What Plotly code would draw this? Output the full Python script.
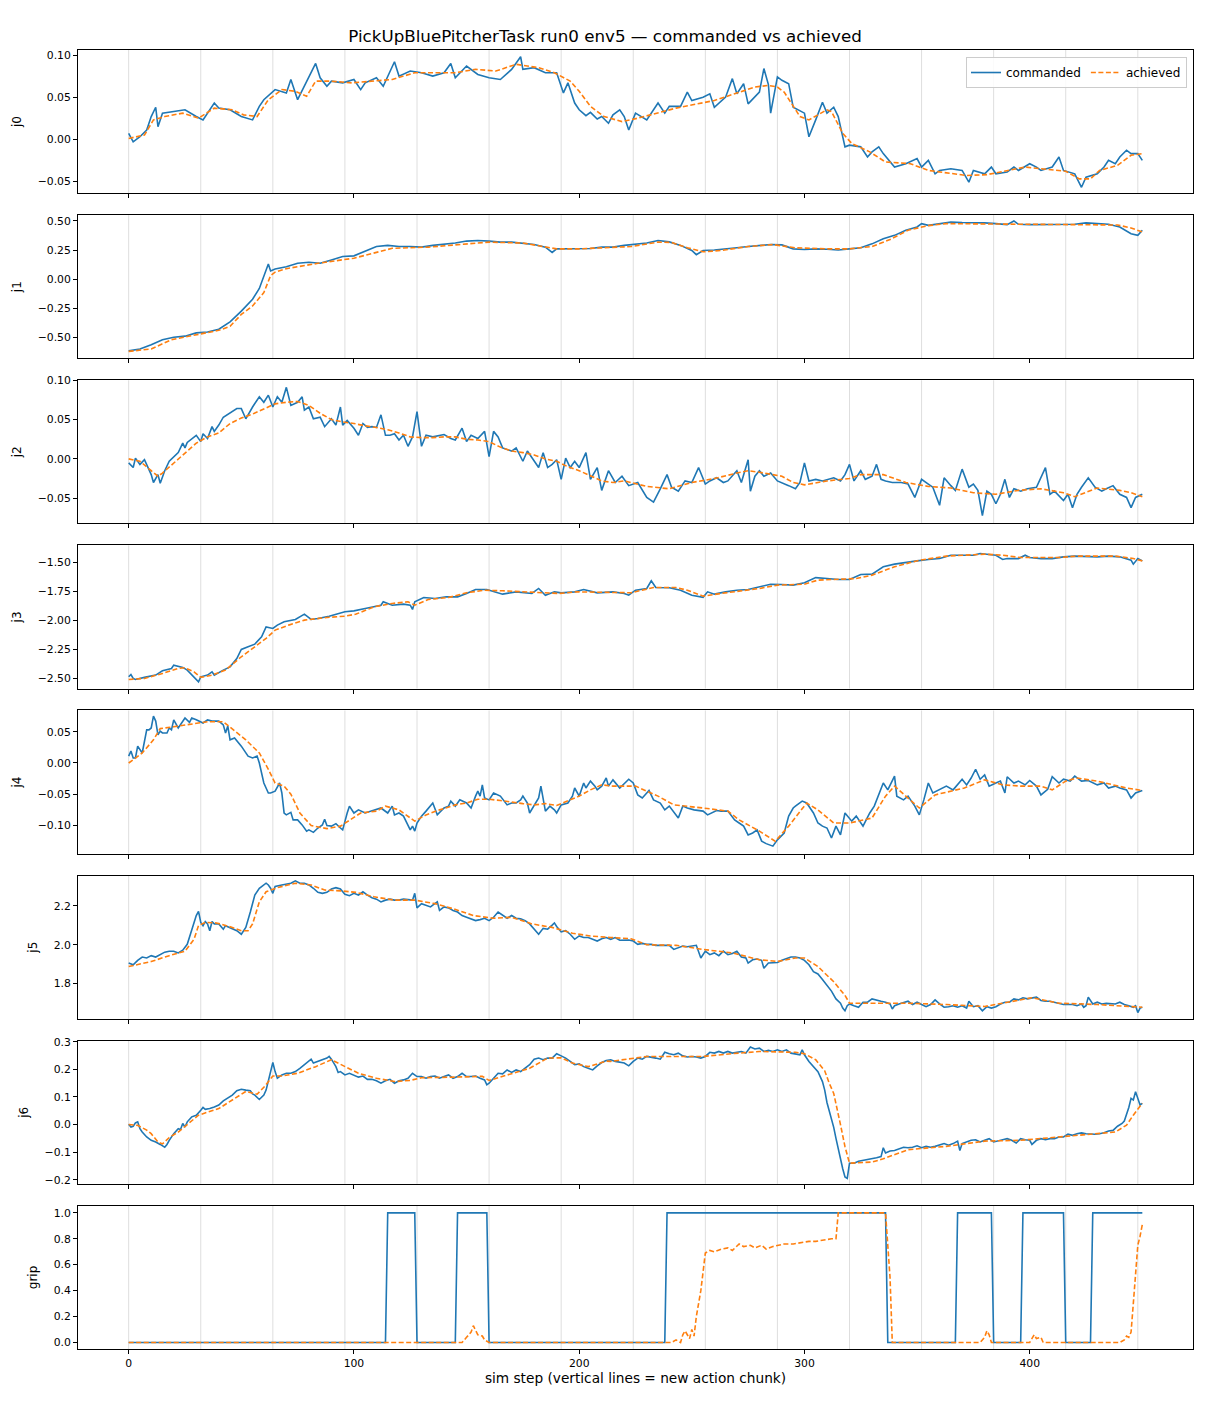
import plotly.graph_objects as go
from plotly.subplots import make_subplots

# (step, value) readings per joint, commanded vs achieved
j0_cmd = [(0, 0.007), (2, -0.003), (5, 0.003), (8, 0.011), (10, 0.027), (12, 0.038), (13, 0.015), (15, 0.031),
          (20, 0.033), (25, 0.035), (30, 0.027), (33, 0.023), (38, 0.043), (40, 0.037), (45, 0.035), (50, 0.027),
          (55, 0.023), (58, 0.039), (60, 0.047), (65, 0.059), (70, 0.055), (72, 0.071), (75, 0.047), (78, 0.063),
          (80, 0.075), (83, 0.09), (85, 0.073), (88, 0.063), (90, 0.069), (95, 0.067), (100, 0.071), (103, 0.059),
          (105, 0.067), (110, 0.073), (113, 0.063), (118, 0.092), (120, 0.075), (125, 0.081), (130, 0.079),
          (135, 0.075), (140, 0.079), (143, 0.09), (145, 0.073), (150, 0.087), (155, 0.077), (160, 0.073),
          (165, 0.071), (170, 0.083), (174, 0.098), (175, 0.083), (180, 0.085), (185, 0.079), (190, 0.079),
          (193, 0.055), (195, 0.067), (198, 0.043), (200, 0.035), (203, 0.028), (205, 0.032), (208, 0.024),
          (210, 0.027), (213, 0.019), (215, 0.029), (218, 0.035), (220, 0.027), (222, 0.011), (225, 0.031),
          (230, 0.023), (235, 0.043), (238, 0.031), (240, 0.039), (245, 0.039), (248, 0.056), (250, 0.046),
          (255, 0.05), (258, 0.054), (260, 0.038), (265, 0.05), (268, 0.072), (270, 0.054), (273, 0.066),
          (275, 0.042), (280, 0.056), (282, 0.084), (284, 0.065), (285, 0.031), (288, 0.074), (290, 0.07),
          (293, 0.066), (295, 0.038), (300, 0.031), (302, 0.003), (305, 0.023), (308, 0.044), (310, 0.031),
          (313, 0.038), (315, 0.027), (318, -0.009), (320, -0.007), (325, -0.009), (328, -0.021), (330, -0.015),
          (333, -0.009), (335, -0.017), (340, -0.033), (345, -0.029), (350, -0.023), (352, -0.033), (355, -0.025),
          (358, -0.041), (360, -0.037), (365, -0.035), (370, -0.037), (373, -0.051), (375, -0.037), (380, -0.041),
          (383, -0.033), (385, -0.041), (390, -0.039), (393, -0.033), (395, -0.037), (400, -0.029), (403, -0.033),
          (405, -0.037), (410, -0.033), (413, -0.021), (415, -0.037), (420, -0.041), (423, -0.057), (425, -0.045),
          (430, -0.041), (433, -0.033), (435, -0.025), (438, -0.029), (440, -0.021), (443, -0.013), (445, -0.017),
          (448, -0.017), (450, -0.025)]
j0_ach = [(0, 0.001), (7, 0.005), (11, 0.023), (16, 0.027), (24, 0.031), (31, 0.025), (38, 0.037), (46, 0.035),
          (51, 0.029), (57, 0.027), (62, 0.047), (68, 0.059), (74, 0.057), (79, 0.051), (83, 0.069), (90, 0.069),
          (99, 0.067), (108, 0.069), (117, 0.071), (127, 0.079), (136, 0.079), (145, 0.079), (154, 0.083),
          (163, 0.081), (172, 0.089), (182, 0.085), (189, 0.079), (196, 0.069), (200, 0.057), (205, 0.039),
          (211, 0.027), (219, 0.021), (226, 0.025), (243, 0.037), (260, 0.046), (278, 0.062), (284, 0.064),
          (288, 0.062), (291, 0.056), (295, 0.04), (298, 0.027), (302, 0.023), (310, 0.035), (312, 0.033),
          (317, 0.007), (321, -0.005), (329, -0.015), (336, -0.027), (347, -0.029), (355, -0.037), (372, -0.043),
          (381, -0.042), (398, -0.033), (416, -0.038), (422, -0.047), (427, -0.047), (431, -0.037), (439, -0.031),
          (445, -0.019), (450, -0.017)]

j1_cmd = [(0, -0.616), (5, -0.60), (10, -0.564), (15, -0.52), (20, -0.50), (25, -0.49), (30, -0.462), (35, -0.454),
          (40, -0.43), (45, -0.367), (50, -0.275), (55, -0.173), (58, -0.08), (60, 0.03), (62, 0.13), (63, 0.07),
          (65, 0.087), (70, 0.107), (75, 0.136), (80, 0.145), (85, 0.136), (90, 0.165), (95, 0.194), (100, 0.2),
          (105, 0.24), (110, 0.28), (115, 0.29), (120, 0.28), (125, 0.28), (130, 0.275), (135, 0.29), (140, 0.297),
          (145, 0.31), (150, 0.327), (155, 0.332), (160, 0.327), (165, 0.318), (170, 0.318), (175, 0.31),
          (180, 0.297), (185, 0.275), (188, 0.23), (190, 0.26), (195, 0.26), (200, 0.266), (205, 0.263),
          (210, 0.275), (215, 0.275), (220, 0.29), (225, 0.303), (230, 0.31), (235, 0.332), (240, 0.32),
          (245, 0.29), (250, 0.246), (252, 0.21), (255, 0.246), (260, 0.25), (265, 0.257), (270, 0.27),
          (275, 0.28), (280, 0.286), (285, 0.297), (290, 0.294), (295, 0.26), (300, 0.254), (305, 0.26),
          (310, 0.257), (315, 0.25), (320, 0.26), (325, 0.27), (330, 0.303), (335, 0.347), (340, 0.376),
          (345, 0.42), (350, 0.448), (352, 0.477), (355, 0.462), (360, 0.477), (365, 0.49), (370, 0.486),
          (375, 0.486), (380, 0.483), (385, 0.477), (390, 0.468), (393, 0.50), (395, 0.471), (400, 0.468),
          (405, 0.468), (410, 0.471), (415, 0.468), (420, 0.471), (425, 0.483), (430, 0.477), (435, 0.471),
          (440, 0.448), (445, 0.39), (448, 0.376), (450, 0.42)]
j1_ach = [(0, -0.621), (10, -0.60), (19, -0.52), (27, -0.49), (35, -0.46), (40, -0.44), (45, -0.405), (50, -0.303),
          (55, -0.23), (60, -0.116), (63, 0.03), (65, 0.06), (70, 0.09), (84, 0.136), (100, 0.18), (110, 0.23),
          (117, 0.265), (133, 0.275), (145, 0.295), (160, 0.318), (175, 0.31), (190, 0.26), (200, 0.26),
          (215, 0.275), (223, 0.28), (235, 0.318), (241, 0.315), (248, 0.27), (255, 0.235), (263, 0.246),
          (275, 0.28), (286, 0.297), (296, 0.269), (310, 0.26), (320, 0.26), (330, 0.28), (338, 0.34),
          (346, 0.42), (355, 0.46), (363, 0.477), (380, 0.475), (400, 0.47), (420, 0.47), (430, 0.47),
          (439, 0.465), (445, 0.44), (450, 0.405)]

j2_cmd = [(0, -0.005), (2, -0.011), (3, 0.001), (5, -0.007), (7, -0.001), (8, -0.007), (10, -0.02), (11, -0.03),
          (13, -0.02), (14, -0.031), (16, -0.015), (18, -0.003), (20, 0.003), (22, 0.008), (24, 0.02), (25, 0.014),
          (26, 0.021), (28, 0.026), (30, 0.03), (32, 0.022), (33, 0.032), (35, 0.026), (37, 0.041), (38, 0.035),
          (40, 0.043), (42, 0.053), (45, 0.058), (48, 0.064), (50, 0.064), (52, 0.051), (55, 0.066), (58, 0.079),
          (60, 0.072), (62, 0.081), (64, 0.066), (66, 0.079), (68, 0.072), (70, 0.091), (72, 0.068), (75, 0.072),
          (77, 0.079), (78, 0.062), (80, 0.066), (82, 0.051), (85, 0.053), (87, 0.041), (90, 0.051), (92, 0.043),
          (94, 0.066), (95, 0.043), (97, 0.049), (100, 0.039), (102, 0.03), (104, 0.045), (106, 0.040),
          (108, 0.041), (110, 0.04), (112, 0.056), (114, 0.03), (116, 0.03), (118, 0.032), (120, 0.024),
          (122, 0.03), (124, 0.016), (126, 0.028), (128, 0.06), (130, 0.016), (132, 0.03), (135, 0.028),
          (140, 0.031), (143, 0.026), (145, 0.024), (148, 0.039), (150, 0.022), (152, 0.03), (155, 0.026),
          (158, 0.035), (160, 0.003), (162, 0.035), (164, 0.028), (166, 0.014), (168, 0.012), (170, 0.01),
          (172, 0.014), (175, -0.003), (177, 0.01), (180, -0.003), (182, -0.011), (184, 0.008), (186, -0.011),
          (188, -0.007), (190, -0.001), (192, -0.026), (194, 0.001), (196, -0.011), (198, -0.003), (200, -0.011),
          (203, 0.008), (205, -0.026), (208, -0.011), (210, -0.04), (213, -0.015), (216, -0.03), (219, -0.022),
          (222, -0.034), (226, -0.03), (230, -0.049), (233, -0.055), (236, -0.038), (239, -0.02), (241, -0.036),
          (244, -0.041), (247, -0.028), (250, -0.03), (253, -0.011), (256, -0.032), (258, -0.028), (261, -0.024),
          (264, -0.03), (266, -0.028), (270, -0.015), (272, -0.03), (275, -0.001), (276, -0.041), (278, -0.022),
          (280, -0.015), (282, -0.022), (285, -0.018), (288, -0.028), (290, -0.03), (293, -0.034), (296, -0.038),
          (298, -0.03), (300, -0.005), (302, -0.028), (305, -0.026), (308, -0.028), (313, -0.024), (316, -0.028),
          (318, -0.02), (320, -0.007), (322, -0.028), (325, -0.015), (327, -0.026), (330, -0.022), (332, -0.007),
          (334, -0.026), (336, -0.028), (339, -0.03), (343, -0.03), (346, -0.032), (349, -0.049), (352, -0.026),
          (355, -0.032), (357, -0.036), (360, -0.059), (362, -0.024), (365, -0.034), (367, -0.04), (370, -0.013),
          (373, -0.036), (375, -0.032), (377, -0.04), (379, -0.072), (381, -0.041), (383, -0.045), (385, -0.057),
          (387, -0.045), (389, -0.026), (391, -0.049), (393, -0.038), (396, -0.041), (399, -0.038), (403, -0.036),
          (407, -0.011), (409, -0.045), (411, -0.041), (415, -0.053), (417, -0.045), (419, -0.062), (421, -0.045),
          (423, -0.036), (426, -0.024), (429, -0.036), (432, -0.041), (434, -0.038), (437, -0.034), (440, -0.045),
          (443, -0.049), (445, -0.062), (447, -0.049), (450, -0.045)]
j2_ach = [(0, 0.0), (5, -0.003), (10, -0.015), (13, -0.022), (15, -0.018), (20, -0.005), (25, 0.008), (30, 0.02),
          (35, 0.028), (40, 0.033), (45, 0.045), (50, 0.052), (55, 0.057), (60, 0.063), (65, 0.07), (70, 0.072),
          (75, 0.073), (80, 0.068), (85, 0.058), (90, 0.05), (95, 0.047), (100, 0.045), (105, 0.042), (110, 0.04),
          (115, 0.037), (120, 0.033), (125, 0.028), (130, 0.027), (135, 0.027), (140, 0.028), (145, 0.028),
          (150, 0.025), (155, 0.024), (160, 0.022), (165, 0.015), (170, 0.01), (175, 0.008), (180, 0.005),
          (185, 0.0), (190, -0.003), (195, -0.01), (200, -0.015), (205, -0.022), (210, -0.028), (215, -0.03),
          (220, -0.028), (230, -0.035), (240, -0.038), (250, -0.03), (260, -0.025), (270, -0.018), (275, -0.015),
          (280, -0.017), (290, -0.022), (295, -0.03), (300, -0.033), (310, -0.028), (320, -0.025), (325, -0.02),
          (335, -0.02), (345, -0.03), (355, -0.035), (365, -0.037), (375, -0.043), (385, -0.045), (395, -0.04),
          (405, -0.038), (415, -0.043), (420, -0.048), (425, -0.042), (430, -0.037), (440, -0.04), (445, -0.043),
          (450, -0.048)]

j3_cmd = [(0, -2.486), (1, -2.466), (2, -2.50), (3, -2.509), (7, -2.491), (12, -2.471), (15, -2.434), (19, -2.414),
          (20, -2.385), (24, -2.405), (26, -2.428), (28, -2.471), (29, -2.491), (31, -2.529), (32, -2.486),
          (35, -2.471), (37, -2.443), (38, -2.471), (42, -2.428), (45, -2.40), (48, -2.328), (50, -2.25),
          (53, -2.227), (56, -2.204), (59, -2.141), (61, -2.055), (64, -2.069), (66, -2.04), (69, -2.011),
          (74, -1.991), (78, -1.945), (81, -1.991), (84, -1.983), (89, -1.963), (96, -1.925), (100, -1.917),
          (105, -1.897), (112, -1.868), (113, -1.839), (117, -1.868), (122, -1.859), (125, -1.868), (126, -1.905),
          (127, -1.839), (131, -1.802), (136, -1.81), (141, -1.796), (146, -1.796), (150, -1.767), (154, -1.733),
          (159, -1.733), (166, -1.773), (172, -1.753), (179, -1.767), (182, -1.724), (185, -1.782), (189, -1.753),
          (192, -1.762), (198, -1.753), (202, -1.733), (208, -1.762), (215, -1.753), (220, -1.767), (222, -1.782),
          (225, -1.739), (228, -1.73), (230, -1.724), (232, -1.658), (234, -1.716), (240, -1.718), (245, -1.739),
          (250, -1.782), (255, -1.80), (257, -1.753), (260, -1.773), (265, -1.753), (270, -1.739), (275, -1.733),
          (280, -1.71), (285, -1.687), (290, -1.69), (295, -1.695), (300, -1.675), (305, -1.63), (310, -1.638),
          (315, -1.647), (320, -1.647), (325, -1.603), (330, -1.60), (335, -1.537), (340, -1.514), (345, -1.503),
          (350, -1.486), (355, -1.474), (360, -1.466), (365, -1.437), (370, -1.437), (375, -1.437), (378, -1.422),
          (380, -1.428), (385, -1.437), (388, -1.474), (390, -1.466), (395, -1.466), (398, -1.437), (400, -1.457),
          (405, -1.466), (410, -1.466), (415, -1.451), (420, -1.445), (425, -1.451), (430, -1.451), (435, -1.445),
          (440, -1.451), (445, -1.48), (446, -1.514), (448, -1.466), (450, -1.486)]
j3_ach = [(0, -2.509), (7, -2.50), (15, -2.457), (22, -2.414), (25, -2.408), (29, -2.443), (32, -2.491),
          (37, -2.471), (43, -2.428), (50, -2.313), (56, -2.227), (61, -2.155), (65, -2.083), (71, -2.04),
          (78, -1.997), (88, -1.974), (96, -1.963), (101, -1.945), (109, -1.882), (117, -1.853), (124, -1.839),
          (127, -1.868), (133, -1.819), (142, -1.802), (150, -1.761), (158, -1.739), (166, -1.744), (174, -1.753),
          (183, -1.759), (191, -1.767), (199, -1.753), (215, -1.757), (223, -1.761), (233, -1.716), (243, -1.716),
          (248, -1.739), (255, -1.79), (263, -1.767), (280, -1.724), (288, -1.695), (300, -1.687), (306, -1.652),
          (313, -1.647), (323, -1.638), (330, -1.609), (340, -1.537), (351, -1.48), (363, -1.445), (380, -1.428),
          (388, -1.437), (396, -1.457), (413, -1.457), (421, -1.445), (438, -1.445), (446, -1.466), (450, -1.486)]

j4_cmd = [(0, 0.011), (1, 0.019), (2, 0.008), (3, 0.008), (4, 0.027), (5, 0.021), (6, 0.016), (8, 0.053),
          (9, 0.053), (10, 0.056), (11, 0.075), (12, 0.067), (13, 0.045), (14, 0.051), (15, 0.048), (17, 0.048),
          (18, 0.056), (19, 0.053), (20, 0.069), (22, 0.056), (24, 0.067), (25, 0.072), (27, 0.065), (28, 0.072),
          (30, 0.069), (33, 0.064), (35, 0.069), (37, 0.067), (40, 0.067), (42, 0.061), (43, 0.048), (44, 0.059),
          (45, 0.037), (47, 0.040), (50, 0.027), (52, 0.016), (53, 0.011), (55, 0.008), (57, 0.011), (58, 0.0),
          (59, -0.016), (60, -0.032), (62, -0.048), (63, -0.048), (65, -0.045), (67, -0.032), (68, -0.048),
          (69, -0.080), (70, -0.083), (72, -0.079), (73, -0.091), (75, -0.091), (77, -0.099), (79, -0.109),
          (80, -0.107), (82, -0.111), (84, -0.104), (86, -0.099), (87, -0.090), (88, -0.100), (90, -0.101),
          (92, -0.097), (94, -0.104), (95, -0.107), (97, -0.080), (98, -0.069), (100, -0.080), (102, -0.075),
          (105, -0.080), (108, -0.077), (110, -0.075), (112, -0.072), (115, -0.080), (117, -0.069), (118, -0.083),
          (120, -0.080), (122, -0.085), (124, -0.099), (125, -0.107), (126, -0.101), (127, -0.109), (128, -0.096),
          (130, -0.085), (132, -0.077), (135, -0.064), (137, -0.083), (140, -0.072), (142, -0.069), (143, -0.061),
          (145, -0.069), (147, -0.059), (150, -0.064), (152, -0.072), (154, -0.053), (155, -0.045), (156, -0.053),
          (157, -0.035), (158, -0.056), (160, -0.059), (162, -0.048), (165, -0.053), (168, -0.067), (170, -0.064),
          (172, -0.064), (174, -0.059), (175, -0.053), (177, -0.064), (178, -0.080), (180, -0.069), (182, -0.056),
          (183, -0.037), (185, -0.077), (187, -0.069), (189, -0.075), (190, -0.080), (192, -0.067), (195, -0.064),
          (197, -0.053), (198, -0.040), (200, -0.053), (202, -0.032), (203, -0.040), (205, -0.029), (207, -0.037),
          (208, -0.043), (210, -0.037), (212, -0.024), (213, -0.037), (215, -0.027), (218, -0.040), (222, -0.026),
          (224, -0.032), (226, -0.051), (228, -0.056), (230, -0.048), (231, -0.044), (233, -0.059), (236, -0.064),
          (238, -0.075), (240, -0.069), (244, -0.088), (246, -0.069), (248, -0.072), (251, -0.075), (255, -0.077),
          (257, -0.083), (261, -0.076), (263, -0.077), (266, -0.077), (269, -0.091), (271, -0.096), (273, -0.101),
          (275, -0.115), (277, -0.112), (279, -0.107), (281, -0.125), (283, -0.129), (286, -0.133), (288, -0.123),
          (291, -0.112), (293, -0.085), (295, -0.072), (296, -0.069), (299, -0.061), (301, -0.064), (304, -0.080),
          (306, -0.096), (308, -0.101), (310, -0.104), (312, -0.120), (314, -0.101), (316, -0.115), (318, -0.080),
          (321, -0.093), (323, -0.085), (326, -0.101), (329, -0.080), (331, -0.069), (335, -0.032), (337, -0.043),
          (340, -0.021), (341, -0.053), (344, -0.059), (346, -0.053), (349, -0.069), (351, -0.083), (353, -0.059),
          (355, -0.032), (357, -0.048), (360, -0.043), (363, -0.037), (366, -0.043), (370, -0.026), (372, -0.035),
          (374, -0.024), (376, -0.010), (378, -0.026), (380, -0.019), (382, -0.037), (385, -0.032), (387, -0.029),
          (389, -0.048), (390, -0.022), (393, -0.032), (395, -0.029), (398, -0.035), (400, -0.028), (403, -0.037),
          (405, -0.051), (408, -0.042), (410, -0.022), (413, -0.032), (415, -0.026), (418, -0.029), (420, -0.021),
          (423, -0.029), (426, -0.028), (430, -0.035), (433, -0.032), (435, -0.040), (438, -0.037), (440, -0.040),
          (443, -0.043), (445, -0.056), (447, -0.048), (450, -0.044)]
j4_ach = [(0, 0.0), (6, 0.016), (11, 0.037), (14, 0.055), (20, 0.058), (27, 0.062), (35, 0.066), (42, 0.066),
          (47, 0.051), (52, 0.037), (58, 0.016), (62, -0.01), (65, -0.032), (69, -0.037), (72, -0.05), (76, -0.08),
          (81, -0.1), (88, -0.105), (94, -0.101), (99, -0.09), (103, -0.08), (110, -0.077), (114, -0.069),
          (120, -0.075), (127, -0.093), (132, -0.083), (138, -0.075), (145, -0.067), (150, -0.064), (155, -0.058),
          (160, -0.058), (165, -0.06), (170, -0.063), (175, -0.065), (180, -0.067), (185, -0.065), (190, -0.068),
          (195, -0.06), (200, -0.053), (205, -0.043), (210, -0.035), (215, -0.037), (225, -0.037), (235, -0.053),
          (242, -0.067), (255, -0.072), (266, -0.077), (271, -0.091), (280, -0.109), (287, -0.125), (293, -0.101),
          (301, -0.064), (306, -0.075), (313, -0.096), (320, -0.096), (330, -0.088), (336, -0.053), (340, -0.037),
          (345, -0.053), (351, -0.072), (358, -0.051), (371, -0.040), (380, -0.027), (388, -0.035), (396, -0.037),
          (405, -0.037), (410, -0.043), (416, -0.029), (421, -0.024), (430, -0.029), (443, -0.040), (450, -0.044)]

j5_cmd = [(0, 1.906), (2, 1.897), (4, 1.92), (6, 1.937), (8, 1.932), (10, 1.944), (12, 1.937), (14, 1.949),
          (16, 1.962), (18, 1.967), (20, 1.967), (22, 1.958), (24, 1.972), (26, 2.002), (28, 2.08), (29, 2.107),
          (30, 2.15), (31, 2.171), (32, 2.115), (33, 2.098), (34, 2.119), (35, 2.107), (36, 2.072), (37, 2.119),
          (38, 2.107), (40, 2.107), (42, 2.08), (43, 2.098), (45, 2.089), (48, 2.072), (50, 2.054), (52, 2.089),
          (54, 2.168), (56, 2.255), (58, 2.29), (60, 2.307), (61, 2.316), (62, 2.307), (63, 2.29), (64, 2.264),
          (65, 2.299), (68, 2.307), (70, 2.311), (72, 2.316), (74, 2.328), (76, 2.316), (78, 2.316), (80, 2.307),
          (82, 2.29), (84, 2.269), (86, 2.264), (88, 2.269), (90, 2.286), (92, 2.293), (94, 2.286), (96, 2.259),
          (98, 2.252), (100, 2.264), (102, 2.255), (104, 2.272), (106, 2.255), (108, 2.241), (110, 2.234),
          (112, 2.22), (114, 2.229), (116, 2.234), (118, 2.229), (120, 2.229), (122, 2.234), (124, 2.232),
          (126, 2.229), (127, 2.264), (128, 2.189), (130, 2.211), (132, 2.203), (134, 2.194), (135, 2.203),
          (137, 2.22), (138, 2.176), (140, 2.194), (142, 2.189), (144, 2.176), (146, 2.168), (148, 2.15),
          (150, 2.141), (152, 2.133), (154, 2.124), (156, 2.129), (158, 2.136), (160, 2.124), (162, 2.141),
          (164, 2.168), (166, 2.15), (168, 2.136), (170, 2.15), (172, 2.136), (174, 2.133), (176, 2.124),
          (178, 2.107), (180, 2.08), (182, 2.054), (184, 2.084), (186, 2.08), (188, 2.101), (189, 2.112),
          (190, 2.094), (192, 2.066), (194, 2.072), (196, 2.054), (198, 2.028), (200, 2.045), (202, 2.037),
          (204, 2.037), (206, 2.028), (208, 2.019), (210, 2.031), (212, 2.037), (214, 2.028), (216, 2.037),
          (218, 2.023), (220, 2.024), (222, 2.024), (224, 2.019), (226, 2.002), (228, 2.007), (230, 2.002),
          (232, 2.002), (234, 1.997), (236, 1.997), (238, 1.997), (240, 1.997), (242, 1.976), (244, 1.984),
          (246, 1.993), (248, 1.99), (250, 1.993), (252, 1.997), (254, 1.932), (256, 1.967), (258, 1.949),
          (260, 1.958), (262, 1.944), (264, 1.967), (266, 1.949), (268, 1.955), (270, 1.967), (272, 1.937),
          (274, 1.932), (275, 1.906), (277, 1.923), (279, 1.927), (281, 1.92), (282, 1.879), (284, 1.906),
          (286, 1.909), (288, 1.909), (290, 1.92), (292, 1.927), (294, 1.937), (296, 1.937), (298, 1.932),
          (300, 1.92), (302, 1.897), (304, 1.862), (306, 1.85), (308, 1.822), (310, 1.792), (312, 1.762),
          (314, 1.722), (316, 1.70), (317, 1.675), (318, 1.661), (319, 1.687), (320, 1.696), (322, 1.687),
          (324, 1.679), (326, 1.705), (328, 1.705), (330, 1.722), (332, 1.714), (334, 1.71), (336, 1.705),
          (338, 1.696), (339, 1.67), (340, 1.687), (342, 1.696), (344, 1.705), (346, 1.71), (348, 1.693),
          (350, 1.705), (352, 1.693), (354, 1.682), (356, 1.693), (358, 1.717), (360, 1.696), (362, 1.679),
          (364, 1.682), (366, 1.687), (368, 1.679), (370, 1.687), (372, 1.675), (373, 1.71), (375, 1.682),
          (377, 1.687), (379, 1.661), (381, 1.682), (383, 1.675), (385, 1.682), (387, 1.696), (389, 1.705),
          (391, 1.705), (393, 1.722), (395, 1.717), (397, 1.728), (399, 1.722), (401, 1.728), (403, 1.731),
          (405, 1.714), (407, 1.71), (409, 1.71), (411, 1.703), (413, 1.696), (415, 1.693), (417, 1.693),
          (419, 1.693), (421, 1.687), (423, 1.696), (424, 1.679), (425, 1.687), (426, 1.731), (428, 1.696),
          (430, 1.705), (432, 1.696), (434, 1.699), (436, 1.696), (438, 1.696), (440, 1.705), (442, 1.693),
          (444, 1.687), (446, 1.679), (447, 1.687), (448, 1.652), (449, 1.675), (450, 1.679)]
j5_ach = [(0, 1.888), (10, 1.914), (18, 1.944), (22, 1.958), (25, 1.967), (29, 2.028), (31, 2.098), (34, 2.115),
          (39, 2.112), (46, 2.089), (50, 2.072), (53, 2.072), (55, 2.107), (58, 2.22), (61, 2.272), (66, 2.293),
          (74, 2.316), (81, 2.307), (87, 2.281), (95, 2.276), (101, 2.269), (109, 2.246), (118, 2.229),
          (127, 2.229), (136, 2.211), (144, 2.185), (153, 2.15), (162, 2.136), (170, 2.141), (179, 2.107),
          (188, 2.089), (197, 2.059), (205, 2.045), (214, 2.037), (223, 2.031), (230, 2.0), (243, 1.997),
          (255, 1.976), (268, 1.958), (280, 1.923), (288, 1.914), (296, 1.932), (300, 1.932), (306, 1.888),
          (313, 1.81), (318, 1.74), (320, 1.70), (330, 1.70), (346, 1.70), (363, 1.693), (380, 1.683),
          (388, 1.70), (396, 1.717), (401, 1.728), (413, 1.70), (430, 1.693), (450, 1.679)]

j6_cmd = [(0, 0.001), (1, -0.009), (2, -0.006), (3, 0.006), (4, 0.010), (5, -0.015), (6, -0.027), (8, -0.045),
          (10, -0.057), (12, -0.063), (14, -0.072), (16, -0.082), (17, -0.072), (18, -0.057), (20, -0.033),
          (22, -0.015), (23, -0.018), (24, 0.004), (25, -0.009), (26, 0.010), (28, 0.028), (30, 0.034),
          (32, 0.052), (33, 0.062), (34, 0.055), (36, 0.058), (38, 0.064), (40, 0.071), (42, 0.086), (44, 0.095),
          (46, 0.107), (48, 0.123), (50, 0.128), (52, 0.125), (54, 0.123), (55, 0.111), (56, 0.107), (58, 0.091),
          (60, 0.107), (61, 0.125), (62, 0.162), (63, 0.198), (64, 0.225), (65, 0.192), (66, 0.168), (68, 0.18),
          (70, 0.186), (72, 0.186), (74, 0.192), (76, 0.204), (78, 0.217), (80, 0.232), (81, 0.237), (82, 0.223),
          (84, 0.229), (86, 0.235), (88, 0.241), (89, 0.247), (90, 0.237), (92, 0.21), (93, 0.189), (94, 0.192),
          (96, 0.18), (98, 0.186), (100, 0.18), (102, 0.172), (104, 0.176), (106, 0.164), (108, 0.164),
          (110, 0.159), (112, 0.15), (114, 0.159), (116, 0.164), (118, 0.15), (120, 0.159), (122, 0.162),
          (124, 0.168), (126, 0.186), (128, 0.174), (130, 0.174), (132, 0.168), (134, 0.174), (136, 0.176),
          (138, 0.168), (140, 0.174), (142, 0.18), (144, 0.168), (146, 0.174), (148, 0.186), (150, 0.174),
          (152, 0.174), (154, 0.176), (156, 0.168), (158, 0.162), (159, 0.144), (160, 0.15), (162, 0.168),
          (164, 0.186), (166, 0.184), (168, 0.198), (170, 0.189), (172, 0.198), (174, 0.192), (176, 0.204),
          (178, 0.217), (180, 0.237), (182, 0.241), (184, 0.235), (186, 0.241), (188, 0.241), (190, 0.257),
          (192, 0.249), (194, 0.241), (196, 0.229), (198, 0.217), (200, 0.22), (202, 0.21), (204, 0.204),
          (206, 0.198), (208, 0.213), (210, 0.225), (212, 0.232), (214, 0.235), (216, 0.229), (218, 0.225),
          (220, 0.223), (222, 0.213), (224, 0.229), (226, 0.241), (228, 0.237), (230, 0.247), (232, 0.245),
          (234, 0.241), (236, 0.237), (238, 0.262), (240, 0.257), (242, 0.253), (244, 0.259), (246, 0.249),
          (248, 0.245), (250, 0.247), (252, 0.245), (254, 0.241), (256, 0.247), (258, 0.262), (260, 0.259),
          (262, 0.265), (264, 0.259), (266, 0.265), (268, 0.259), (270, 0.262), (272, 0.265), (274, 0.259),
          (276, 0.281), (278, 0.274), (280, 0.277), (282, 0.265), (284, 0.269), (286, 0.265), (288, 0.271),
          (290, 0.265), (292, 0.271), (294, 0.259), (296, 0.257), (298, 0.253), (299, 0.271), (300, 0.253),
          (302, 0.229), (304, 0.21), (306, 0.192), (308, 0.156), (309, 0.125), (310, 0.08), (311, 0.05),
          (312, 0.02), (313, -0.01), (314, -0.05), (315, -0.09), (316, -0.13), (317, -0.16), (318, -0.19),
          (319, -0.195), (320, -0.14), (322, -0.14), (324, -0.133), (326, -0.130), (328, -0.128), (330, -0.124),
          (332, -0.120), (334, -0.116), (335, -0.084), (336, -0.103), (338, -0.096), (340, -0.094), (342, -0.088),
          (344, -0.082), (346, -0.084), (348, -0.082), (350, -0.077), (352, -0.084), (354, -0.079), (356, -0.082),
          (358, -0.079), (360, -0.075), (362, -0.069), (364, -0.075), (366, -0.069), (368, -0.060), (369, -0.094),
          (370, -0.069), (372, -0.063), (374, -0.057), (376, -0.055), (378, -0.063), (380, -0.057), (382, -0.051),
          (384, -0.063), (386, -0.060), (388, -0.055), (390, -0.051), (392, -0.057), (394, -0.067), (396, -0.051),
          (398, -0.055), (400, -0.057), (401, -0.072), (403, -0.057), (405, -0.051), (407, -0.055), (409, -0.051),
          (411, -0.051), (413, -0.045), (415, -0.045), (417, -0.035), (419, -0.039), (421, -0.033), (423, -0.030),
          (425, -0.033), (427, -0.035), (429, -0.035), (431, -0.033), (433, -0.030), (435, -0.023), (437, -0.021),
          (439, -0.006), (441, 0.004), (442, 0.013), (443, 0.034), (444, 0.062), (445, 0.095), (446, 0.089),
          (447, 0.119), (448, 0.095), (449, 0.071), (450, 0.077)]
j6_ach = [(0, 0.0), (4, -0.003), (8, -0.02), (10, -0.033), (13, -0.063), (15, -0.07), (18, -0.047), (22, -0.027),
          (26, 0.0), (31, 0.034), (35, 0.045), (40, 0.058), (46, 0.089), (52, 0.12), (57, 0.11), (60, 0.135),
          (64, 0.176), (68, 0.176), (75, 0.186), (83, 0.21), (90, 0.235), (95, 0.215), (102, 0.186), (110, 0.168),
          (118, 0.156), (125, 0.16), (130, 0.17), (145, 0.172), (157, 0.175), (160, 0.16), (170, 0.185),
          (178, 0.204), (186, 0.241), (192, 0.242), (197, 0.223), (204, 0.21), (212, 0.23), (214, 0.229),
          (230, 0.247), (238, 0.247), (255, 0.247), (268, 0.257), (280, 0.265), (296, 0.262), (300, 0.257),
          (305, 0.235), (309, 0.195), (311, 0.15), (313, 0.113), (316, 0.0), (318, -0.08), (320, -0.14),
          (330, -0.136), (335, -0.124), (346, -0.091), (363, -0.079), (380, -0.06), (396, -0.057), (413, -0.045),
          (429, -0.035), (438, -0.027), (443, -0.002), (446, 0.034), (450, 0.077)]

grip_cmd = [(0, 0), (114, 0), (115, 1), (127, 1), (128, 0), (145, 0), (146, 1), (159, 1), (160, 0), (238, 0),
            (239, 1), (336, 1), (337, 0), (367, 0), (368, 1), (383, 1), (384, 0), (396, 0), (397, 1), (415, 1),
            (416, 0), (427, 0), (428, 1), (450, 1)]
grip_ach = [(0, 0.0), (148, 0.0), (150, 0.04), (152, 0.08), (153, 0.13), (155, 0.06), (157, 0.05), (158, 0.02),
            (160, 0.0), (241, 0.0), (243, 0.02), (245, 0.0), (246, 0.06), (247, 0.09), (248, 0.06), (249, 0.03),
            (250, 0.1), (251, 0.05), (252, 0.2), (254, 0.4), (256, 0.69), (258, 0.71), (260, 0.70), (263, 0.72),
            (266, 0.73), (268, 0.71), (271, 0.76), (273, 0.74), (276, 0.75), (278, 0.73), (281, 0.75), (283, 0.72),
            (286, 0.74), (288, 0.75), (291, 0.76), (295, 0.76), (298, 0.77), (302, 0.78), (305, 0.78), (308, 0.79),
            (312, 0.80), (314, 0.80), (315, 1.0), (336, 1.0), (338, 0.5), (339, 0.0), (378, 0.0), (380, 0.04),
            (381, 0.09), (382, 0.06), (383, 0.0), (400, 0.0), (402, 0.06), (403, 0.03), (405, 0.04), (406, 0.0),
            (440, 0.0), (442, 0.02), (443, 0.05), (444, 0.04), (445, 0.08), (446, 0.3), (447, 0.55), (448, 0.75),
            (449, 0.82), (450, 0.91)]

chunk_starts = [0, 32, 64, 96, 128, 160, 192, 224, 256, 288, 320, 352, 384, 416, 448]

BLUE = "#1f77b4"
ORANGE = "#ff7f0e"
FONT = "DejaVu Sans"

panels = [
    ("j0", j0_cmd, j0_ach, [-0.064, 0.106], 0.05, ".2f"),
    ("j1", j1_cmd, j1_ach, [-0.68, 0.55], 0.25, ".2f"),
    ("j2", j2_cmd, j2_ach, [-0.082, 0.1], 0.05, ".2f"),
    ("j3", j3_cmd, j3_ach, [-2.587, -1.352], 0.25, ".2f"),
    ("j4", j4_cmd, j4_ach, [-0.145, 0.084], 0.05, ".2f"),
    ("j5", j5_cmd, j5_ach, [1.62, 2.355], 0.2, ".1f"),
    ("j6", j6_cmd, j6_ach, [-0.215, 0.304], 0.1, ".1f"),
    ("grip", grip_cmd, grip_ach, [-0.05, 1.054], 0.2, ".1f"),
]

fig = make_subplots(rows=8, cols=1, shared_xaxes=True, vertical_spacing=0.0169)

for i, (name, cmd, ach, rng, dt, fmt) in enumerate(panels, start=1):
    cx, cy = zip(*cmd)
    ax, ay = zip(*ach)
    fig.add_trace(go.Scatter(x=cx, y=cy, mode="lines", name="commanded", legendgroup="cmd",
                             showlegend=(i == 1), line=dict(color=BLUE, width=1.6)), row=i, col=1)
    fig.add_trace(go.Scatter(x=ax, y=ay, mode="lines", name="achieved", legendgroup="ach",
                             showlegend=(i == 1), line=dict(color=ORANGE, width=1.6, dash="5px,2.5px")),
                  row=i, col=1)
    fig.update_yaxes(range=rng, dtick=dt, tickformat=fmt, title_text=name, row=i, col=1)

for s in chunk_starts:
    fig.add_vline(x=s, line_color="#dedede", line_width=1, layer="below", row="all", col=1)

fig.update_xaxes(range=[-22.5, 472.5], tickvals=[0, 100, 200, 300, 400], showline=True, mirror=True,
                 linecolor="black", linewidth=1, ticks="outside", ticklen=4, tickcolor="black",
                 showgrid=False, zeroline=False, tickfont=dict(size=10.8, color="black"))
fig.update_yaxes(showline=True, mirror=True, linecolor="black", linewidth=1, ticks="outside", ticklen=4,
                 tickcolor="black", showgrid=False, zeroline=False, tickfont=dict(size=10.8, color="black"),
                 title_font=dict(size=12, color="black"), title_standoff=13)
fig.update_xaxes(title_text="sim step (vertical lines = new action chunk)", title_standoff=2,
                 title_font=dict(size=13.7, color="black"), row=8, col=1)

# the page body adds an 8px offset, so the margins are shifted to land the axes where the original has them
fig.update_layout(
    template="none",
    width=1210, height=1408,
    margin=dict(l=70, r=25, t=42, b=67),
    paper_bgcolor="white", plot_bgcolor="white",
    font=dict(family=FONT, color="black"),
    title=dict(text="PickUpBluePitcherTask run0 env5 — commanded vs achieved", x=597 / 1210, xanchor="center",
               y=1 - 28 / 1408, yanchor="middle", font=dict(size=16.7, color="black")),
    legend=dict(orientation="h", x=0.9946, y=0.9946, xanchor="right", yanchor="top",
                bgcolor="rgba(255,255,255,0.85)", bordercolor="#cccccc", borderwidth=1,
                font=dict(size=12), itemwidth=30),
)

fig.write_html("out.html")
